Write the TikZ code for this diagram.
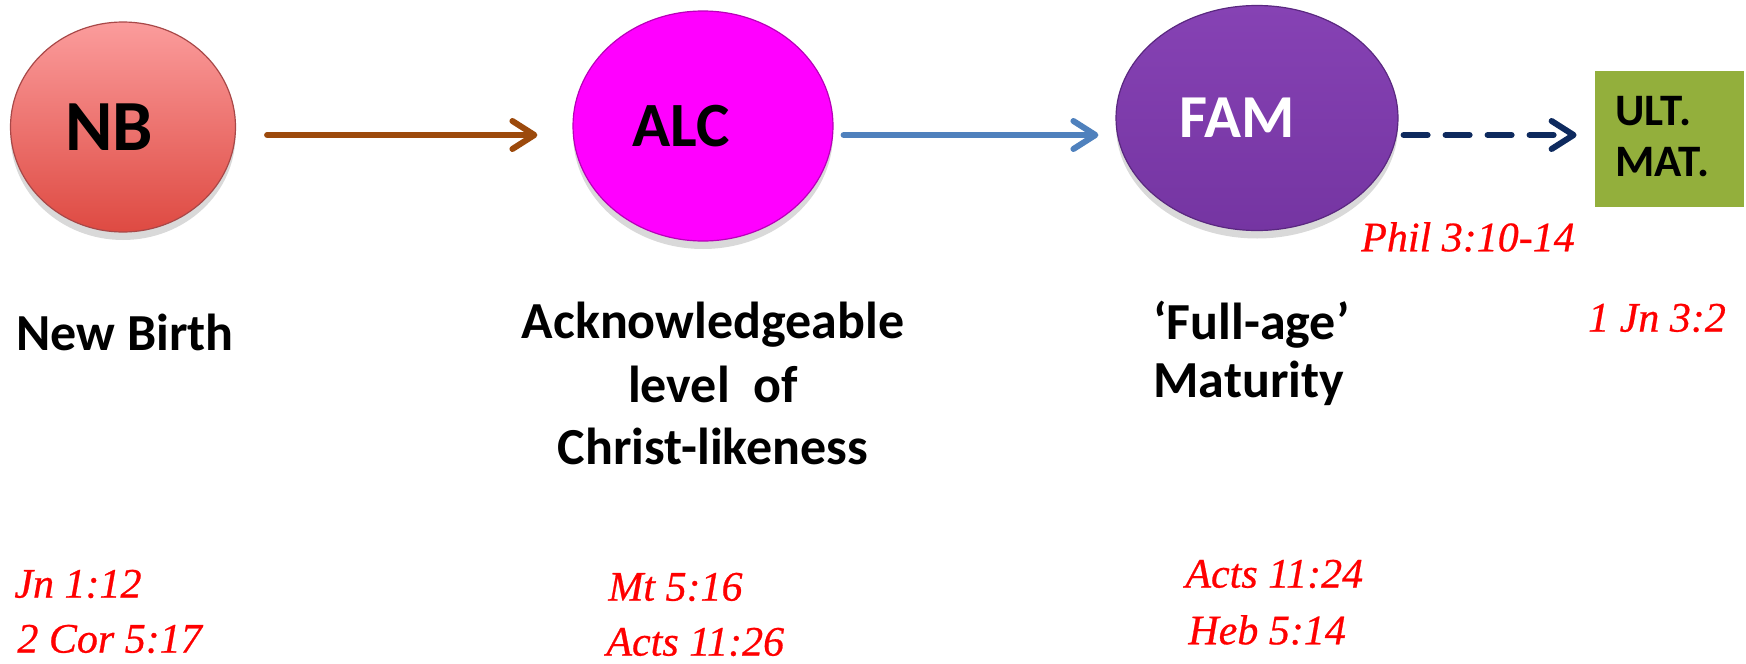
\documentclass[tikz,border=0pt]{standalone}
\usepackage{fontspec}
\setmainfont{Carlito}
\newfontfamily\refsfont{Liberation Serif}[ItalicFeatures={FakeBold=0.6}]
\usetikzlibrary{shapes.geometric,arrows.meta,shadows,calc}
\definecolor{nbtop}{HTML}{FB9C9C}
\definecolor{nbbot}{HTML}{DE4A42}
\definecolor{nbedge}{HTML}{A84848}
\definecolor{alcfill}{HTML}{FF00FF}
\definecolor{alcedge}{HTML}{B800B8}
\definecolor{famtop}{HTML}{8642B4}
\definecolor{fambot}{HTML}{7535A2}
\definecolor{famedge}{HTML}{5A2880}
\definecolor{ultfill}{HTML}{93AF3C}
\definecolor{brownarr}{HTML}{9C4A0C}
\definecolor{bluearr}{HTML}{4F81BD}
\definecolor{navyarr}{HTML}{0E2A5E}
\definecolor{refred}{HTML}{FF0000}
\begin{document}
\begin{tikzpicture}[x=0.5pt,y=-0.5pt,
  bubble/.style={ellipse, inner sep=0pt, line width=0.6pt,
    drop shadow={shadow xshift=0pt, shadow yshift=-4pt, opacity=0.3}},
  lab/.style={font=\fontsize{26}{32}\selectfont\bfseries, inner sep=0pt,
    text height=19pt, text depth=6pt},
  reftext/.style={font=\refsfont\itshape\fontsize{21}{25}\selectfont, text=refred, inner sep=0pt},
  conn/.style={line width=3pt, line cap=round,
    -{Straight Barb[round, length=11pt, width=14pt]}}]
\useasboundingbox (0,0) rectangle (1746,664);

% bubbles
\node[bubble, minimum width=112.5pt, minimum height=105pt,
  top color=nbtop, bottom color=nbbot, draw=nbedge,
  font=\fontsize{36}{40}\selectfont\bfseries] (NB) at (123,127) {NB\kern14pt};
\node[bubble, minimum width=130pt, minimum height=115pt,
  fill=alcfill, draw=alcedge,
  font=\fontsize{31.5}{35}\selectfont\bfseries] (ALC) at (703,126) {ALC\kern22pt};
\node[bubble, minimum width=141pt, minimum height=112.5pt,
  top color=famtop, bottom color=fambot, draw=famedge, text=white,
  font=\fontsize{30.5}{34}\selectfont\bfseries] (FAM) at (1257,118) {FAM\kern20pt};
\node[rectangle, fill=ultfill, minimum width=74.5pt, minimum height=68pt,
  inner sep=0pt] (ULT) at (1669.5,139) {};
\node[align=left, inner sep=0pt, font=\fontsize{22.5}{25.5}\selectfont\bfseries,
  anchor=west] (ULTt) at (1615,137) {ULT.\\MAT.};

% connectors
\coordinate (axis) at (0,135);
\draw[conn, brownarr, shorten <=15.5pt, shorten >=17.5pt] (NB.east |- axis) -- (ALC.west |- axis);
\draw[conn, bluearr, shorten <=5pt, shorten >=8.5pt] (ALC.east |- axis) -- (FAM.west |- axis);
\draw[conn, navyarr, dash pattern=on 12pt off 9pt, shorten <=2.5pt, shorten >=9pt] (FAM.east |- axis) -- (ULT.west |- axis);

% black labels
\node[lab] (lNB) at (125,337) {New Birth};
\node[lab] (lALC1) at (713,325) {Acknowledgeable};
\node[lab] (lALC2) at (713,389) {level\ \ of};
\node[lab] (lALC3) at (713,451) {Christ-likeness};
\node[lab, anchor=west] (lFAM1) at (1153,326) {‘Full-age’};
\node[lab, anchor=west] (lFAM2) at (1153,384) {Maturity};

% references
\node[reftext] (rPhil) at (1468,237) {Phil 3:10-14};
\node[reftext] (rJn) at (1657,318) {1 Jn 3:2};
\node[reftext, anchor=west] (r1) at (14,584) {Jn 1:12};
\node[reftext, anchor=west] (r2) at (17,639) {2 Cor 5:17};
\node[reftext, anchor=west] (r3) at (608,587) {Mt 5:16};
\node[reftext, anchor=west] (r4) at (606,642) {Acts 11:26};
\node[reftext, anchor=west] (r5) at (1185,574) {Acts 11:24};
\node[reftext, anchor=west] (r6) at (1188,630) {Heb 5:14};
\end{tikzpicture}
\end{document}
